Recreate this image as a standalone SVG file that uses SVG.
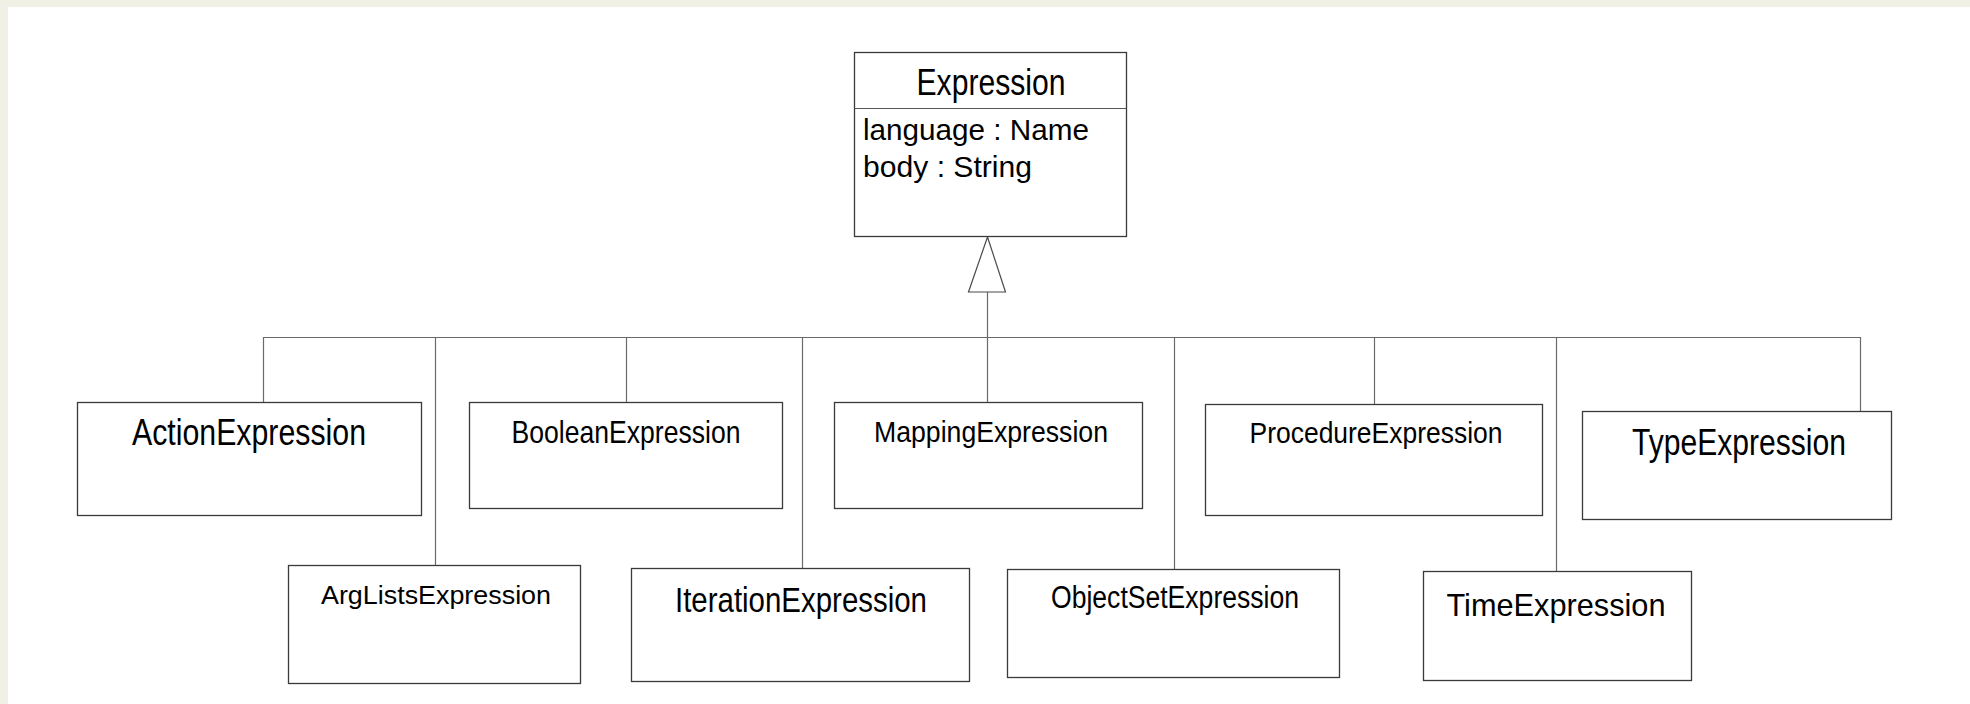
<svg xmlns="http://www.w3.org/2000/svg" width="1970" height="704" viewBox="0 0 1970 704">
  <style>
    .box { fill: #ffffff; stroke: #3a3a3a; stroke-width: 1.3; }
    .sep { stroke: #555555; stroke-width: 1; }
    .conn { fill: none; stroke: #6a6a6a; stroke-width: 1.2; }
    .head { fill: #ffffff; stroke: #4a4a4a; stroke-width: 1.2; }
    .t { font-family: "Liberation Sans", Arial, sans-serif; fill: #000000; text-anchor: middle; }
    .attr { font-family: "Liberation Sans", Arial, sans-serif; fill: #000000; text-anchor: start; }
  </style>

  <!-- page frame -->
  <rect x="0" y="0" width="1970" height="704" fill="#ffffff"/>
  <rect x="0" y="0" width="1970" height="7" fill="#f0f0e4"/>
  <rect x="0" y="0" width="8" height="704" fill="#f0f0e4"/>

  <!-- generalization connectors -->
  <g id="connectors">
    <polyline class="conn" points="263.5,402 263.5,337.5 1860.5,337.5 1860.5,411"/>
    <line class="conn" x1="435.5" y1="337.5" x2="435.5" y2="565"/>
    <line class="conn" x1="626.5" y1="337.5" x2="626.5" y2="402"/>
    <line class="conn" x1="802.5" y1="337.5" x2="802.5" y2="568"/>
    <line class="conn" x1="987.5" y1="292" x2="987.5" y2="402"/>
    <line class="conn" x1="1174.5" y1="337.5" x2="1174.5" y2="569"/>
    <line class="conn" x1="1374.5" y1="337.5" x2="1374.5" y2="404"/>
    <line class="conn" x1="1556.5" y1="337.5" x2="1556.5" y2="571"/>
    <polygon class="head" points="987.5,237 968.5,292 1005.5,292"/>
  </g>

  <g id="Expression">
    <rect class="box" x="854.5" y="52.5" width="272" height="184"/>
    <line class="sep" x1="854.5" y1="108.5" x2="1126.5" y2="108.5"/>
    <text class="t" x="991" y="95" font-size="36" textLength="149" lengthAdjust="spacingAndGlyphs">Expression</text>
    <text class="attr" x="863" y="140" font-size="30" textLength="226" lengthAdjust="spacingAndGlyphs">language : Name</text>
    <text class="attr" x="863" y="177" font-size="30" textLength="169" lengthAdjust="spacingAndGlyphs">body : String</text>
  </g>

  <g id="ActionExpression">
    <rect class="box" x="77.5" y="402.5" width="344" height="113"/>
    <text class="t" x="249" y="445" font-size="37" textLength="234" lengthAdjust="spacingAndGlyphs">ActionExpression</text>
  </g>

  <g id="ArgListsExpression">
    <rect class="box" x="288.5" y="565.5" width="292" height="118"/>
    <text class="t" x="436" y="604" font-size="25" textLength="230" lengthAdjust="spacingAndGlyphs">ArgListsExpression</text>
  </g>

  <g id="BooleanExpression">
    <rect class="box" x="469.5" y="402.5" width="313" height="106"/>
    <text class="t" x="626" y="443" font-size="32" textLength="229" lengthAdjust="spacingAndGlyphs">BooleanExpression</text>
  </g>

  <g id="IterationExpression">
    <rect class="box" x="631.5" y="568.5" width="338" height="113"/>
    <text class="t" x="801" y="612" font-size="35" textLength="252" lengthAdjust="spacingAndGlyphs">IterationExpression</text>
  </g>

  <g id="MappingExpression">
    <rect class="box" x="834.5" y="402.5" width="308" height="106"/>
    <text class="t" x="991" y="442" font-size="30" textLength="234" lengthAdjust="spacingAndGlyphs">MappingExpression</text>
  </g>

  <g id="ObjectSetExpression">
    <rect class="box" x="1007.5" y="569.5" width="332" height="108"/>
    <text class="t" x="1175" y="608" font-size="31" textLength="248" lengthAdjust="spacingAndGlyphs">ObjectSetExpression</text>
  </g>

  <g id="ProcedureExpression">
    <rect class="box" x="1205.5" y="404.5" width="337" height="111"/>
    <text class="t" x="1376" y="443" font-size="30" textLength="253" lengthAdjust="spacingAndGlyphs">ProcedureExpression</text>
  </g>

  <g id="TimeExpression">
    <rect class="box" x="1423.5" y="571.5" width="268" height="109"/>
    <text class="t" x="1556" y="616" font-size="32" textLength="219" lengthAdjust="spacingAndGlyphs">TimeExpression</text>
  </g>

  <g id="TypeExpression">
    <rect class="box" x="1582.5" y="411.5" width="309" height="108"/>
    <text class="t" x="1739" y="455" font-size="37" textLength="214" lengthAdjust="spacingAndGlyphs">TypeExpression</text>
  </g>
</svg>
